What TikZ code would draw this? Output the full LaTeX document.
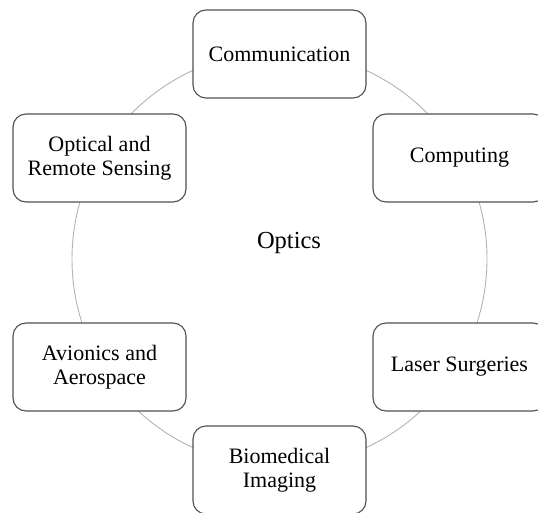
\documentclass[tikz,border=0pt]{standalone}
\usepackage{fontspec}
\setmainfont{Liberation Serif}
\definecolor{ringgray}{HTML}{B3B3B3}
\definecolor{boxedge}{HTML}{505050}
\begin{document}
\begin{tikzpicture}[x=1pt,y=-1pt,
  topic/.style={draw=boxedge, line width=1.1pt, fill=white,
    rounded corners=13pt, minimum width=173pt, minimum height=88pt,
    inner sep=0pt, align=center, font=\fontsize{22}{24}\selectfont},
  ring/.style={draw=ringgray, line width=0.9pt}]
  \useasboundingbox (0,0) rectangle (538,513);
  % central ring
  \coordinate (hub) at (279.5,259);
  \draw[ring] (hub) circle[radius=207.5pt];
  \node[font=\fontsize{24.5}{28}\selectfont] (optics) at (289,243) {Optics};
  % application areas around the ring
  \node[topic] (comm) at (279.5,54) {Communication};
  \node[topic] (comp) at (459.5,158) {Computing};
  \node[topic] (sens) at (99.5,158) {Optical and\\Remote Sensing};
  \node[topic] (avio) at (99.5,367) {Avionics and\\Aerospace};
  \node[topic] (laser) at (459.5,367) {Laser Surgeries};
  \node[topic] (bio) at (279.5,470) {Biomedical\\Imaging};
\end{tikzpicture}
\end{document}
